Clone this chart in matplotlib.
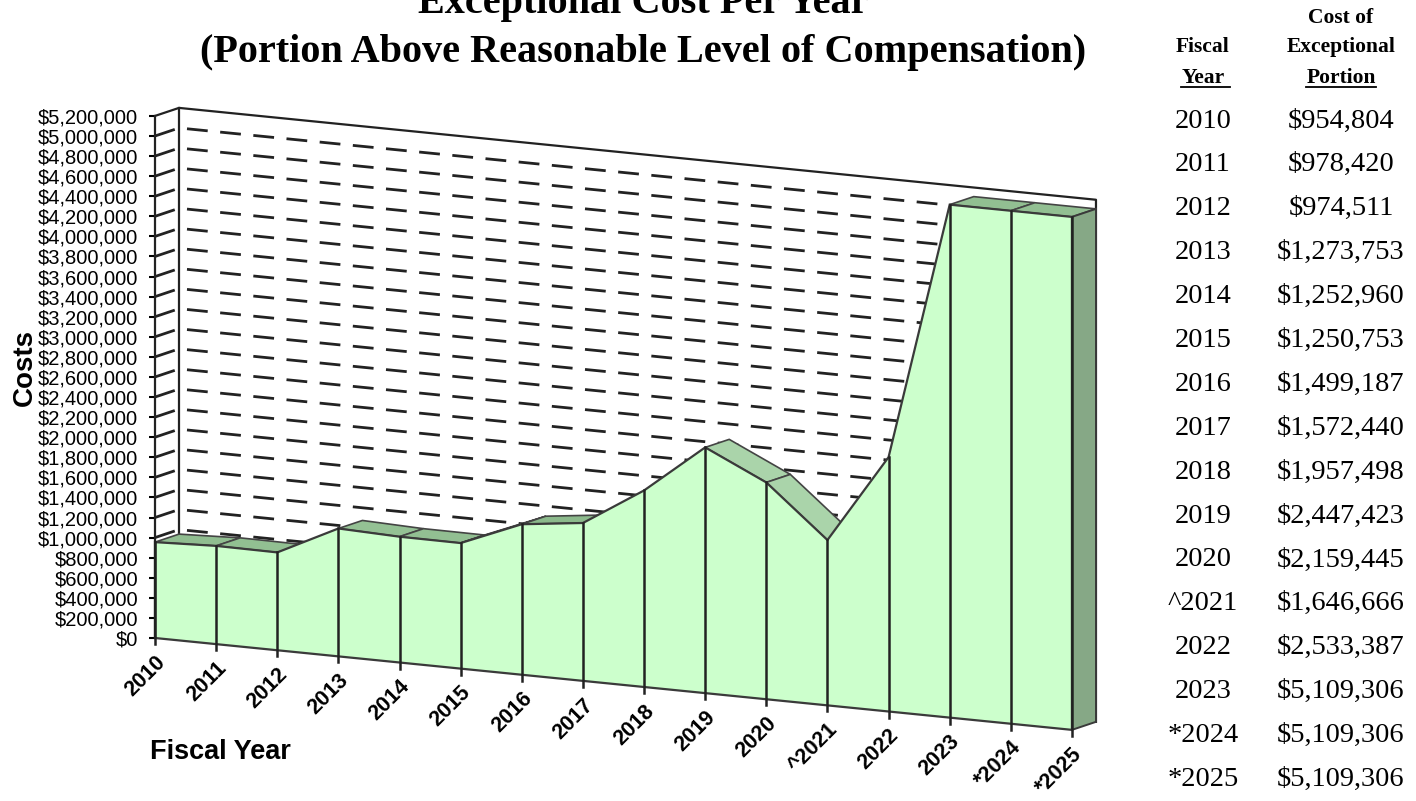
import numpy as np
import matplotlib
matplotlib.use('Agg')
import matplotlib.pyplot as plt
from matplotlib.patches import Polygon
from matplotlib.lines import Line2D
from matplotlib.colors import to_rgb

plt.rcParams['font.family'] = ['Liberation Sans', 'DejaVu Sans']

# data
year_labels = ['2010', '2011', '2012', '2013', '2014', '2015', '2016', '2017',
               '2018', '2019', '2020', '^2021', '2022', '2023', '*2024', '*2025']
costs = [954804, 978420, 974511, 1273753, 1252960, 1250753, 1499187, 1572440,
         1957498, 2447423, 2159445, 1646666, 2533387, 5109306, 5109306, 5109306]
y_ticks = np.arange(0, 5200001, 200000)

# fake-3D layout (index units on x, dollars on y)
SHEAR = 61000       # baseline drop per year (dollars)
DEPTH_X = 0.393     # depth offset in year units
DEPTH_Y = 80000     # depth offset in dollars
Y_TOP = 5200000

FRONT = '#ccffcc'
SIDE = '#86a886'
TOP_DARK = np.array(to_rgb('#8cba8c'))
TOP_LIGHT = np.array(to_rgb('#aad4aa'))


def proj(i, v, back=False):
    x = i + (DEPTH_X if back else 0)
    y = v - SHEAR * i + (DEPTH_Y if back else 0)
    return x, y


fig = plt.figure(figsize=(14.16, 8.01), dpi=100)
ax = fig.add_axes([0, 0, 1, 1])
ax.set_xlim(-2.5356, 20.628)
ax.set_ylim(-1623500, 6354600)
ax.patch.set_alpha(0)

n = len(costs)
idx = np.arange(n)

# walls: dashed gridlines on left/back wall
for v in y_ticks[1:-1]:
    pts = [proj(0, v), proj(0, v, True), proj(n - 1, v, True)]
    xs, ys = zip(*pts)
    ax.plot(xs, ys, color='#222222', lw=2.0, ls=(0, (7.5, 4.5)), zorder=1)

# wall outlines
pts = [proj(0, Y_TOP), proj(0, Y_TOP, True), proj(n - 1, Y_TOP, True), proj(n - 1, 0, True)]
xs, ys = zip(*pts)
ax.plot(xs, ys, color='#222222', lw=1.6, zorder=1)
xs, ys = zip(proj(0, 0, True), proj(0, Y_TOP, True))
ax.plot(xs, ys, color='#222222', lw=1.6, zorder=1)

# top faces of the ribbon (only those facing the viewer)
for i in range(n - 1):
    dv = costs[i + 1] - costs[i]
    if DEPTH_Y - (dv - SHEAR) * DEPTH_X <= 0:
        continue
    t = np.clip((SHEAR - dv) / 300000, 0, 1)
    col = TOP_DARK * (1 - t) + TOP_LIGHT * t
    poly = [proj(i, costs[i]), proj(i + 1, costs[i + 1]),
            proj(i + 1, costs[i + 1], True), proj(i, costs[i], True)]
    ax.add_patch(Polygon(poly, closed=True, facecolor=col, edgecolor='#444444',
                         lw=1.2, zorder=3))

# front face
top = [proj(i, c) for i, c in zip(idx, costs)]
base = [proj(i, 0) for i in idx[::-1]]
ax.add_patch(Polygon(top + base, closed=True, facecolor=FRONT, edgecolor='#3a3a3a',
                     lw=1.6, zorder=4))

# right side face
side = [proj(n - 1, 0), proj(n - 1, costs[-1]), proj(n - 1, costs[-1], True), proj(n - 1, 0, True)]
ax.add_patch(Polygon(side, closed=True, facecolor=SIDE, edgecolor='#3a3a3a', lw=1.4, zorder=4))

# year dividers + ticks below baseline
for i, c in zip(idx, costs):
    x0, y0 = proj(i, 0)
    x1, y1 = proj(i, c)
    ax.plot([x0, x1], [y0 - 60000, y1], color='#222222', lw=1.8, zorder=5)
    ax.annotate(year_labels[i], xy=(x0, y0), xytext=(5, -15), textcoords='offset points',
                rotation=45, ha='right', va='center', rotation_mode='anchor',
                fontsize=15.5, fontweight='bold', zorder=6)

# y axis
for s in ['top', 'right', 'bottom']:
    ax.spines[s].set_visible(False)
ax.spines['left'].set_position(('data', 0))
ax.spines['left'].set_bounds(0, Y_TOP)
ax.spines['left'].set_linewidth(1.6)
ax.spines['left'].set_color('#222222')
ax.spines['left'].set_zorder(6)
ax.set_xticks([])
ax.set_yticks(y_ticks)
ax.set_yticklabels(['${:,.0f}'.format(v) for v in y_ticks])
ax.tick_params(axis='y', direction='out', length=4, width=1.5, pad=8, labelsize=14.5)

fig.text(25 / 1416, 1 - 368 / 801, 'Costs', rotation=90, ha='center', va='center',
         fontsize=20, fontweight='bold')
fig.text(150 / 1416, 1 - 752 / 801, 'Fiscal Year', ha='left', va='center',
         fontsize=19.5, fontweight='bold')

# title (first line runs off the top edge, as in the source image)
serif = ['Liberation Serif', 'DejaVu Serif']
fig.text(643 / 1416, 1 - 13 / 801, 'Exceptional Cost Per Year', ha='center', va='baseline',
         fontsize=29, fontweight='bold', family=serif)
fig.text(643 / 1416, 1 - 62 / 801, '(Portion Above Reasonable Level of Compensation)',
         ha='center', va='baseline', fontsize=29, fontweight='bold', family=serif)

# side table
col_year = 1203 / 1416
col_cost = 1341 / 1416
fig.text(col_cost, 1 - 23 / 801, 'Cost of', ha='center', va='baseline', fontsize=15.5,
         fontweight='bold', family=serif)
fig.text(col_year, 1 - 52 / 801, 'Fiscal', ha='center', va='baseline', fontsize=15.5,
         fontweight='bold', family=serif)
fig.text(col_cost, 1 - 52 / 801, 'Exceptional', ha='center', va='baseline', fontsize=15.5,
         fontweight='bold', family=serif)
t_year = fig.text(col_year, 1 - 83 / 801, 'Year', ha='center', va='baseline', fontsize=15.5,
                  fontweight='bold', family=serif)
t_port = fig.text(col_cost, 1 - 83 / 801, 'Portion', ha='center', va='baseline', fontsize=15.5,
                  fontweight='bold', family=serif)

for k, (lbl, c) in enumerate(zip(year_labels, costs)):
    yb = 1 - (127.5 + 43.9 * k) / 801
    fig.text(col_year, yb, lbl, ha='center', va='baseline', fontsize=20.5, family=serif)
    fig.text(col_cost, yb, '${:,.0f}'.format(c), ha='center', va='baseline', fontsize=20.5,
             family=serif)

# underline the header words
fig.canvas.draw()
renderer = fig.canvas.get_renderer()
W, H = fig.bbox.width, fig.bbox.height
for t, extra in [(t_year, 5), (t_port, 0)]:
    bb = t.get_window_extent(renderer)
    yl = (bb.y0 + 1) / H
    fig.add_artist(Line2D([bb.x0 / W, (bb.x1 + extra) / W], [yl, yl], transform=fig.transFigure,
                          color='black', lw=1.3))

fig.savefig('out.png', dpi=100)
